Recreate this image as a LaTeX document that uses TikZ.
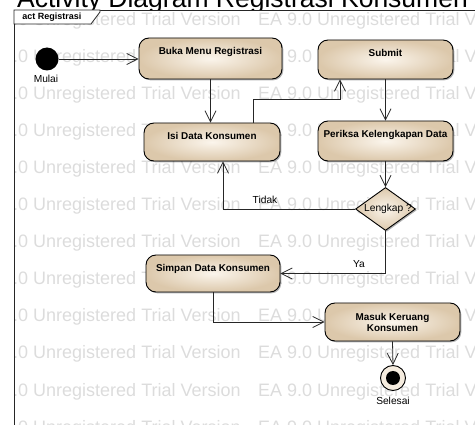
\documentclass[tikz,border=0pt]{standalone}
\usepackage{fontspec}
\setmainfont{Liberation Sans}
\usetikzlibrary{shapes.geometric,arrows.meta,shadows}

\definecolor{edgeink}{HTML}{262626}
\definecolor{actin}{HTML}{FBF5EC}
\definecolor{actout}{HTML}{DCC8AB}
\definecolor{wmgray}{HTML}{DCDCDC}

\tikzset{
  actbox/.style={draw=black, line width=0.9pt, rounded corners=10pt,
    shading=radial, inner color=actin, outer color=actout,
    drop shadow={shadow xshift=1.3pt, shadow yshift=-1.3pt, opacity=0.3, fill=black},
    inner sep=0pt},
  decisionbox/.style={diamond, draw=black, line width=0.9pt,
    shading=radial, inner color=actin, outer color=actout,
    drop shadow={shadow xshift=1.3pt, shadow yshift=-1.3pt, opacity=0.3, fill=black},
    inner sep=0pt},
  boxlabel/.style={font=\bfseries\fontsize{9.9}{11}\selectfont, anchor=north,
    inner sep=0pt, align=center, yshift=-9.5pt},
  plainlabel/.style={font=\fontsize{10.2}{11}\selectfont, inner sep=0pt},
  wmtext/.style={font=\fontsize{18}{20}\selectfont, text=wmgray, inner sep=0pt, anchor=base west},
  flow/.style={draw=edgeink, line width=0.8pt,
    -{Straight Barb[length=11pt,width=11pt,line width=0.8pt]}},
}

\begin{document}
\begin{tikzpicture}[x=1pt,y=-1pt]
\useasboundingbox (0,0) rectangle (475,425);
\clip (0,0) rectangle (475,425);

% heading above the frame, cut by the frame's top edge
\begin{scope}
  \clip (0,0) rectangle (475,10);
  \node[anchor=base west, font=\fontsize{26.5}{30}\selectfont, inner sep=0pt]
    (heading) at (17,7.5) {Activity Diagram Registrasi Konsumen};
\end{scope}

% evaluation watermark rows inside the frame
\begin{scope}
  \clip (14,10) rectangle (475,425);
  \foreach \r in {0,...,11} {
    \foreach \c in {0,1} {
      \node[wmtext] (wm-\r-\c) at ({-26+284*\c},{25.1+37.1*\r}) {EA 9.0 Unregistered Trial Version};
    }
  }
\end{scope}

% activity frame and its tab
\draw[line width=0.9pt, draw=edgeink] (14,425) -- (14,10) -- (475,10);
\draw[line width=0.8pt, draw=edgeink, fill=white]
  (14,10) -- (100,10) -- (100,12) -- (91,24) -- (14,24) -- cycle;
\node[font=\bfseries\fontsize{9}{10}\selectfont, inner sep=0pt] (tabname) at (52,17.5) {act Registrasi};

% initial and final nodes
\node[circle, fill=black, minimum size=23pt, inner sep=0pt] (init) at (47,59) {};
\node[plainlabel] (initname) at (46,79) {Mulai};

\node[circle, draw=black, line width=0.9pt, fill=actin!80!actout, minimum size=25pt, inner sep=0pt] (final) at (393,378) {};
\node[circle, fill=black, minimum size=14pt, inner sep=0pt] (finalcore) at (final) {};
\node[plainlabel] (finalname) at (393,401) {Selesai};

% actions
\node[actbox, minimum width=143pt, minimum height=41pt] (buka) at (210.5,58.5) {};
\node[boxlabel] (bukatext) at (buka.north) {Buka Menu Registrasi};

\node[actbox, minimum width=135pt, minimum height=39pt] (submit) at (385.5,59.5) {};
\node[boxlabel] (submittext) at (submit.north) {Submit};

\node[actbox, minimum width=136pt, minimum height=38pt] (isi) at (212,142) {};
\node[boxlabel] (isitext) at (isi.north) {Isi Data Konsumen};

\node[actbox, minimum width=135pt, minimum height=40pt] (periksa) at (385.5,141) {};
\node[boxlabel] (periksatext) at (periksa.north) {Periksa Kelengkapan Data};

\node[decisionbox, minimum width=60pt, minimum height=43pt] (lengkap) at (385.5,209) {};
\node[plainlabel] (lengkaptext) at (388,209) {Lengkap ?};

\node[actbox, minimum width=134pt, minimum height=37pt] (simpan) at (213,273.5) {};
\node[boxlabel] (simpantext) at (simpan.north) {Simpan Data Konsumen};

\node[actbox, minimum width=135pt, minimum height=38pt] (masuk) at (392.5,322) {};
\node[boxlabel, yshift=-0.8pt] (masuktext) at (masuk.north) {Masuk Keruang\\Konsumen};

% control flows
\draw[flow] (init) -- (init -| buka.west);
\draw[flow] (buka.south) -- (buka.south |- isi.north);
\draw[flow] ([xshift=41pt]isi.north) -- ++(0,-23) -| ([xshift=-45.5pt]submit.south);
\draw[flow] (submit.south) -- (periksa.north);
\draw[flow] (periksa.south) -- (lengkap.north);
\draw[flow] (lengkap.west) -| ([xshift=11pt]isi.south);
\draw[flow] (lengkap.south) |- (simpan.east);
\draw[flow] (simpan.south) |- (masuk.west);
\draw[flow] (masuk.south) -- (final.north);

% guard labels
\node[plainlabel] (tidak) at (265,200) {Tidak};
\node[plainlabel] (ya) at (359,264) {Ya};
\end{tikzpicture}
\end{document}
